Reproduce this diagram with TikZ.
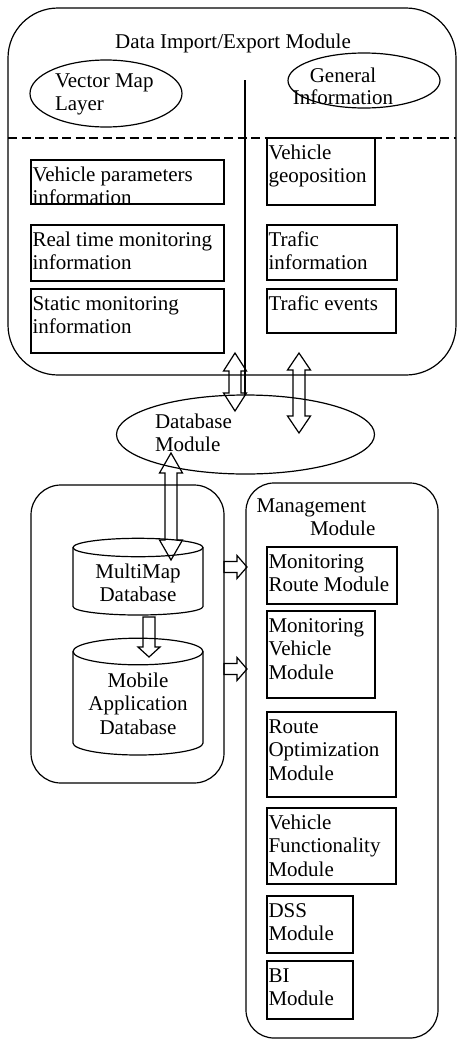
\documentclass[tikz,border=0pt]{standalone}
\usepackage{fontspec}
\setmainfont{Liberation Serif}
\usetikzlibrary{shapes.geometric,calc}
\newcommand\myfs{\fontsize{21}{23.5}\selectfont}
\newcommand\Lines[1]{\vtop{\halign{##\hfil\cr#1\crcr}}}
\newcommand\CLines[1]{\vtop{\halign{\hfil##\hfil\cr#1\crcr}}}
\newcommand\bxt[2]{\makebox[#1][l]{\Lines{#2}}}
\newcommand\dblV[3]{%
  \draw[blk] let \p1=(#1), \p2=(#2) in
   (\x1,\y1) -- (\x1+11.5pt,\y1-#3) -- (\x1+6pt,\y1-#3) -- (\x1+6pt,\y2+#3) --
   (\x1+11.5pt,\y2+#3) -- (\x1,\y2) -- (\x1-11.5pt,\y2+#3) -- (\x1-6pt,\y2+#3) --
   (\x1-6pt,\y1-#3) -- (\x1-11.5pt,\y1-#3) -- cycle;}
\newcommand\sglD[2]{%
  \draw[blk] let \p1=(#1), \p2=(#2) in
   (\x1-6pt,\y1) -- (\x1+6pt,\y1) -- (\x1+6pt,\y2+10pt) -- (\x1+11pt,\y2+10pt) --
   (\x1,\y2) -- (\x1-11pt,\y2+10pt) -- (\x1-6pt,\y2+10pt) -- cycle;}
\newcommand\sglR[2]{%
  \draw[blk] let \p1=(#1), \p2=(#2) in
   (\x1,\y1+5.5pt) -- (\x2-10pt,\y1+5.5pt) -- (\x2-10pt,\y1+11.5pt) -- (\x2,\y1) --
   (\x2-10pt,\y1-11.5pt) -- (\x2-10pt,\y1-5.5pt) -- (\x1,\y1-5.5pt) -- cycle;}
\tikzset{
  lw/.style={line width=1.2pt},
  rframe/.style={draw, lw, rounded corners=#1, anchor=north west, inner sep=0pt, outer sep=0pt},
  box/.style={draw, lw, anchor=north west, inner xsep=1.5pt, inner ysep=0pt, outer sep=0pt, text height=21pt, font=\myfs},
  oval/.style={draw, ellipse, lw, inner sep=0pt, outer sep=0pt},
  txt/.style={inner sep=0pt, outer sep=0pt, anchor=base west, font=\myfs},
  blk/.style={draw, lw, line join=miter},
}
\begin{document}
\begin{tikzpicture}[x=1pt,y=-1pt]
\useasboundingbox (0,0) rectangle (457,1039);
% top module
\node[rframe=50pt, minimum width=448pt, minimum height=367pt] (die) at (8,8) {};
\node[txt, anchor=base] (title) at (233,48) {Data Import/Export Module};
\node[oval, minimum width=152pt, minimum height=67pt] (vml) at (106,93.5) {};
\node[txt] (vmlt) at (55,87) {\Lines{Vector Map\cr Layer}};
\node[oval, minimum width=152pt, minimum height=55pt] (gie) at (364,80.5) {};
\node[txt, anchor=base] (git) at (343,82.5) {\baselineskip=21.5pt\CLines{General\cr Information}};
\coordinate (dl) at (0,138);
\draw[lw, dash pattern=on 9pt off 4.5pt] (die.west |- dl) -- (die.east |- dl);
\node[box, text depth=23pt] (vp) at (31,160) {\bxt{190pt}{Vehicle parameters\cr information}};
\node[box, text depth=35pt] (rt) at (31,225) {\bxt{190pt}{Real time monitoring\cr information}};
\node[box, text depth=43pt] (sm) at (31,289) {\bxt{190pt}{Static monitoring\cr information}};
\node[box, text depth=46pt] (vg) at (267,138) {\bxt{105pt}{Vehicle\cr geoposition}};
\node[box, text depth=34pt] (ti) at (267,225) {\bxt{127pt}{Trafic\cr information}};
\node[box, text depth=23pt] (te) at (267,289) {\bxt{126pt}{Trafic events}};
% database module
\node[oval, minimum width=258pt, minimum height=79pt] (dbe) at (245.5,434.5) {};
\node[txt] (dbt) at (155,428) {\Lines{Database\cr Module}};
\coordinate (vt) at (245,80);
\draw[lw] (vt) -- (vt |- dbe.north);
% lower left
\node[rframe=30pt, minimum width=193pt, minimum height=298pt] (llr) at (31,485) {};
\draw[lw] (138,547.5) ellipse [x radius=65, y radius=9.2];
\draw[lw] (73,547.5) -- (73,606.5) arc[start angle=180, end angle=360, x radius=65pt, y radius=8.5pt] -- (203,547.5);
\node[txt, anchor=base] (mmt) at (138,578) {\CLines{MultiMap\cr Database}};
\draw[lw] (138,651.5) ellipse [x radius=65, y radius=13.3];
\draw[lw] (73,651.5) -- (73,743) arc[start angle=180, end angle=360, x radius=65pt, y radius=12pt] -- (203,651.5);
\node[txt, anchor=base] (mat) at (138,687) {\CLines{Mobile\cr Application\cr Database}};
% management
\node[rframe=28pt, minimum width=192pt, minimum height=555pt] (mgr) at (246,483) {};
\node[txt] (mgt) at (256.5,512) {\Lines{Management\cr\hskip53.5pt Module}};
\node[box, text depth=36pt] (mrm) at (267,547) {\bxt{127pt}{Monitoring\cr Route Module}};
\node[box, text depth=66pt] (mvm) at (267,611) {\bxt{105pt}{Monitoring\cr Vehicle\cr Module}};
\node[box, text depth=64pt] (rom) at (267,712) {\bxt{126pt}{Route\cr Optimization\cr Module}};
\node[box, text depth=55pt] (vfm) at (267,808) {\bxt{126pt}{Vehicle\cr Functionality\cr Module}};
\node[box, text depth=36pt] (dss) at (267,896) {\bxt{83pt}{DSS\cr Module}};
\node[box, text depth=37pt] (bi) at (267,961) {\bxt{83pt}{BI\cr Module}};
% block arrows
\coordinate (a1t) at (235,353); \coordinate (a1b) at (235,411);
\coordinate (a2t) at (299,353); \coordinate (a2b) at (299,433);
\coordinate (a3t) at (171,453); \coordinate (a3b) at (171,560);
\coordinate (a4t) at (149,617); \coordinate (a4b) at (149,657);
\coordinate (r1a) at (224,567); \coordinate (r1b) at (247,567);
\coordinate (r2a) at (224,669); \coordinate (r2b) at (247,669);
\dblV{a1t}{a1b}{18pt}
\dblV{a2t}{a2b}{17pt}
\dblV{a3t}{a3b}{20pt}
\sglD{a4t}{a4b}
\sglR{r1a}{r1b}
\sglR{r2a}{r2b}
\end{tikzpicture}
\end{document}
